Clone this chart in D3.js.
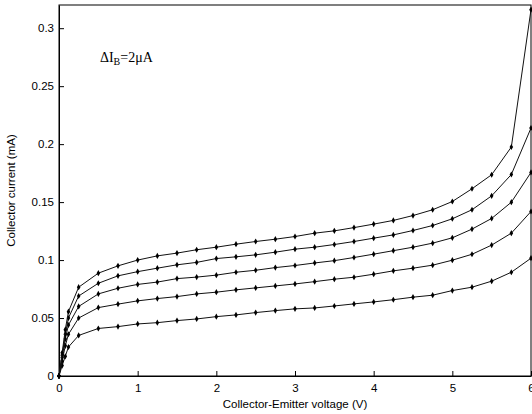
<!DOCTYPE html>
<html>
<head>
<meta charset="utf-8">
<script src="https://cdn.jsdelivr.net/npm/d3@7"></script>
<style>
  body { margin: 0; background: #fff; }
  svg { display: block; }
</style>
</head>
<body>
<svg id="vis" width="532" height="414"></svg>
<script>
// collector-emitter voltage (V)
const vce = [0, 0.04, 0.08, 0.12, 0.25, 0.5, 0.75, 1, 1.25, 1.5, 1.75, 2, 2.25, 2.5, 2.75,
  3, 3.25, 3.5, 3.75, 4, 4.25, 4.5, 4.75, 5, 5.25, 5.5, 5.75, 6];

// collector current (mA), one curve per base current step
const ic1 = [0, 0.009, 0.017, 0.025, 0.035, 0.041, 0.0426, 0.0449, 0.046, 0.0478, 0.0492, 0.0512,
  0.0527, 0.0547, 0.0564, 0.0579, 0.0587, 0.0604, 0.0622, 0.0639, 0.0658, 0.068, 0.0697,
  0.0737, 0.0766, 0.0818, 0.0895, 0.1016];
const ic2 = [0, 0.013, 0.026, 0.036, 0.050, 0.059, 0.062, 0.0648, 0.0668, 0.0685, 0.0708, 0.0723,
  0.0743, 0.076, 0.0777, 0.0794, 0.0814, 0.0835, 0.0852, 0.0878, 0.0907, 0.093, 0.0956,
  0.0999, 0.105, 0.1129, 0.1232, 0.1419];
const ic3 = [0, 0.016, 0.032, 0.044, 0.060, 0.0708, 0.0757, 0.079, 0.081, 0.084, 0.0853, 0.0870,
  0.0895, 0.0912, 0.0935, 0.0953, 0.0975, 0.0995, 0.1022, 0.1051, 0.1081, 0.1111, 0.1146,
  0.1192, 0.1267, 0.1359, 0.1499, 0.1756];
const ic4 = [0, 0.018, 0.036, 0.050, 0.069, 0.080, 0.0864, 0.090, 0.093, 0.0959, 0.098, 0.1013,
  0.1028, 0.1045, 0.1068, 0.1094, 0.1111, 0.1134, 0.116, 0.1189, 0.1217, 0.1255, 0.1298,
  0.1356, 0.1434, 0.1554, 0.1738, 0.2139];
const ic5 = [0, 0.020, 0.040, 0.0555, 0.0766, 0.0887, 0.095, 0.100, 0.1036, 0.106, 0.1089, 0.1111,
  0.1137, 0.116, 0.118, 0.1203, 0.1232, 0.1252, 0.128, 0.131, 0.1342, 0.1384, 0.1434,
  0.1505, 0.1615, 0.1736, 0.1975, 0.316];
const curves = [ic1, ic2, ic3, ic4, ic5];

const xTicks = [0, 1, 2, 3, 4, 5, 6];
const yTicks = [0, 0.05, 0.1, 0.15, 0.2, 0.25, 0.3];

const sans = '"Liberation Sans", Arial, sans-serif';
const serif = '"Liberation Serif", "Times New Roman", serif';

const svg = d3.select('#vis');
const margin = { left: 59, right: 1, top: 5, bottom: 38 };
const width = 532 - margin.left - margin.right;
const height = 414 - margin.top - margin.bottom;

const x = d3.scaleLinear().domain([0, 6]).range([0, width]);
const y = d3.scaleLinear().domain([0, 0.32]).range([height, 0]);

const g = svg.append('g').attr('transform', `translate(${margin.left},${margin.top})`);

// frame
g.append('rect')
  .attr('x', 0).attr('y', 0)
  .attr('width', width).attr('height', height)
  .attr('fill', 'none').attr('stroke', '#000').attr('stroke-width', 1);

// axes, matlab style ticks pointing inward
const xAxis = g.append('g')
  .attr('transform', `translate(0,${height})`)
  .call(d3.axisBottom(x).tickValues(xTicks).tickFormat(d3.format('d')).tickSizeInner(-5).tickSizeOuter(0).tickPadding(8));
const yAxis = g.append('g')
  .call(d3.axisLeft(y).tickValues(yTicks).tickFormat(d => d === 0 ? '0' : String(d)).tickSizeInner(-5).tickSizeOuter(0).tickPadding(5));

[xAxis, yAxis].forEach(a => {
  a.select('.domain').attr('stroke', '#000');
  a.selectAll('.tick line').attr('stroke', '#000');
  a.selectAll('text').attr('font-size', 11.5).attr('fill', '#000')
    .attr('font-family', sans);
});

// curves
const line = d3.line()
  .x((d, i) => x(vce[i]))
  .y(d => y(d));

const plot = g.append('g');
curves.forEach(c => {
  plot.append('path')
    .datum(c)
    .attr('d', line)
    .attr('fill', 'none')
    .attr('stroke', '#111')
    .attr('stroke-width', 1);

  plot.selectAll(null)
    .data(c)
    .enter()
    .append('path')
    .attr('d', d3.symbol().type(d3.symbolDiamond).size(11))
    .attr('transform', (d, i) => `translate(${x(vce[i])},${y(d)})`)
    .attr('fill', '#000');
});

// annotation
const note = g.append('text')
  .attr('x', x(0.52))
  .attr('y', y(0.271))
  .attr('font-family', serif)
  .attr('font-size', 14)
  .attr('fill', '#000');
note.append('tspan').text('ΔI');
note.append('tspan').attr('font-size', 10).attr('dy', 3).text('B');
note.append('tspan').attr('dy', -3).text('=2μA');

// axis labels
svg.append('text')
  .attr('x', margin.left + width / 2)
  .attr('y', 408)
  .attr('text-anchor', 'middle')
  .attr('font-family', sans)
  .attr('font-size', 11.5)
  .text('Collector-Emitter voltage (V)');

svg.append('text')
  .attr('transform', `translate(15,${margin.top + height / 2}) rotate(-90)`)
  .attr('text-anchor', 'middle')
  .attr('font-family', sans)
  .attr('font-size', 11.5)
  .text('Collector current (mA)');
</script>
</body>
</html>
